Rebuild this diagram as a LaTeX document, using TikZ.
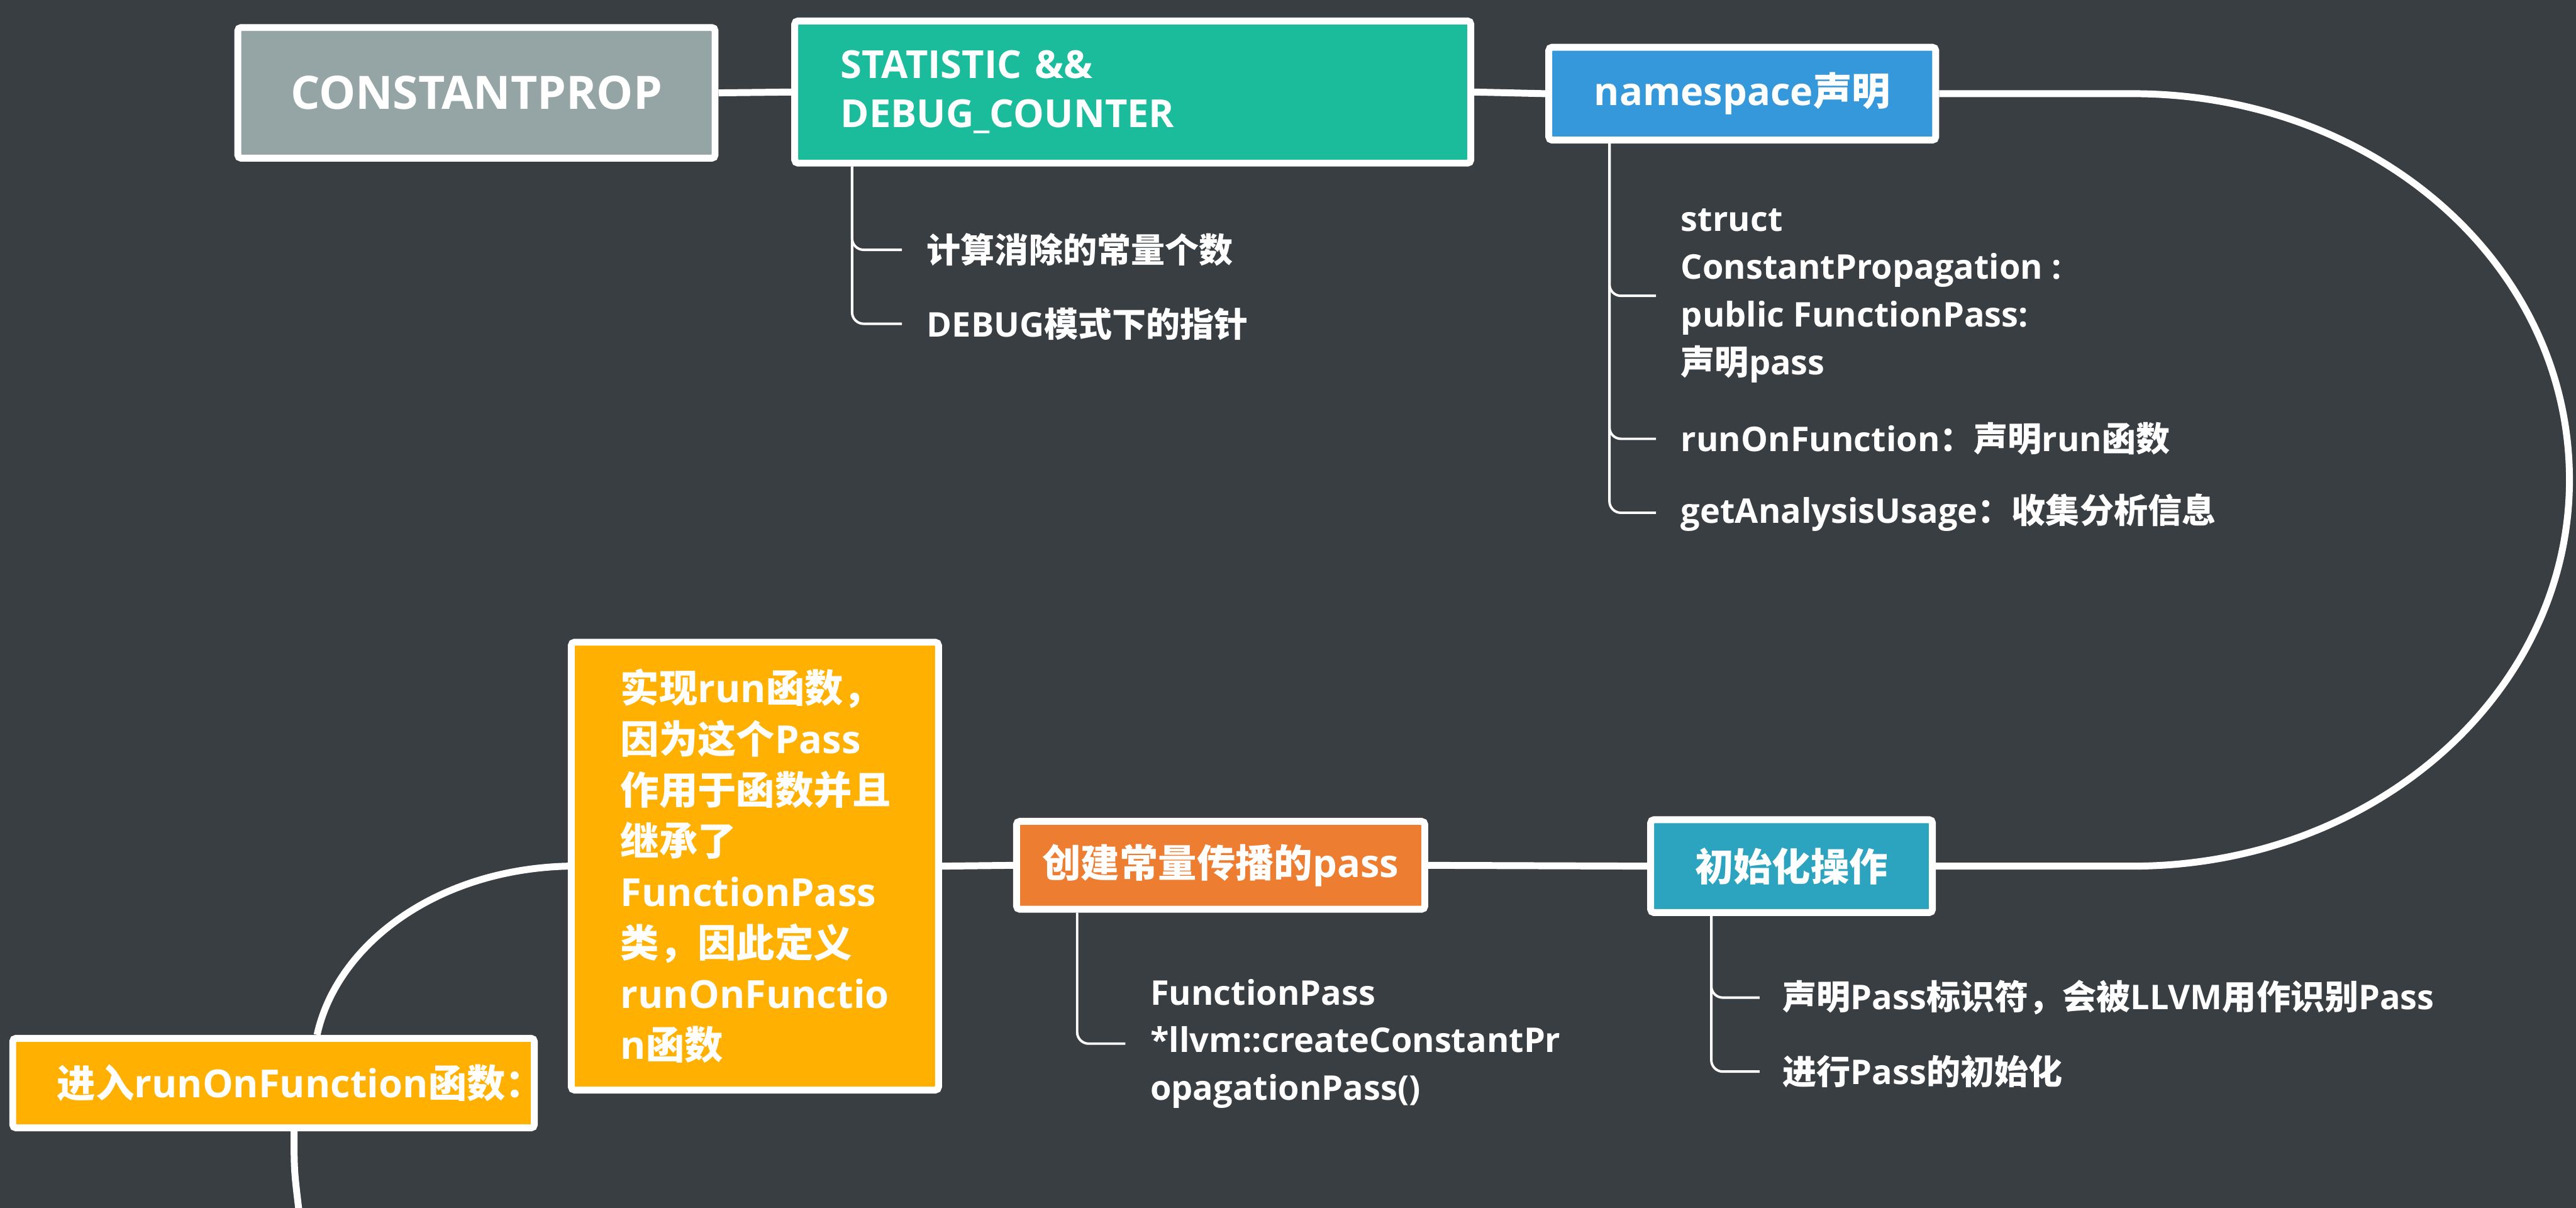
\documentclass[tikz,border=0pt]{standalone}
\usepackage{fontspec}
\setmainfont{Open Sans}
\newfontfamily\zhfont{Noto Sans CJK SC}
\newcommand\zhs[1]{{\zhfont #1}}

\definecolor{bgdark}{HTML}{393E43}
\definecolor{rootgray}{HTML}{95A5A6}
\definecolor{statgreen}{HTML}{1ABC9C}
\definecolor{nsblue}{HTML}{3498DB}
\definecolor{initcyan}{HTML}{2CA3BF}
\definecolor{passorange}{HTML}{ED7D31}
\definecolor{runamber}{HTML}{FFB000}

\tikzset{
  topic/.style={draw=white, line width=4.2pt, rounded corners=2pt, text=white,
    font=\bfseries\fontsize{23.5}{31}\selectfont},
  spine/.style={draw=white, line width=4.2pt},
  twig/.style={draw=white, line width=1.5pt, rounded corners=7pt},
  leaf/.style={text=white, inner sep=0pt, anchor=west, align=left,
    font=\bfseries\fontsize{20.7}{29}\selectfont},
}

\begin{document}
\begin{tikzpicture}[x=1pt,y=-1pt]
  \useasboundingbox (0,0) rectangle (1568,735);
  \fill[bgdark] (0,0) rectangle (1568,735);

  % main topics
  \node[topic, fill=rootgray, minimum width=290.5, minimum height=79.5,
    font=\bfseries\fontsize{28}{34}\selectfont] (root) at (290,56.5) {CONSTANTPROP};
  \node[topic, fill=statgreen, minimum width=411.5, minimum height=86.5,
    inner xsep=28, text width=355.5, align=left, font=\bfseries\fontsize{23.5}{30}\selectfont]
    (stat) at (689.5,56) {STATISTIC \&\&\\DEBUG\_COUNTER};
  \node[topic, fill=nsblue, minimum width=235.5, minimum height=56.5] (ns) at (1060.5,57)
    {namespace\zhs{声明}};
  \node[topic, fill=initcyan, minimum width=171.5, minimum height=56.5] (init) at (1090.5,527)
    {\zhs{初始化操作}};
  \node[topic, fill=passorange, minimum width=248.5, minimum height=53.5] (create) at (743,526.5)
    {\zhs{创建常量传播的}pass};
  \node[topic, fill=runamber, minimum width=223.5, minimum height=272.5,
    inner xsep=30, text width=163.5, align=left] (impl) at (459.5,527)
    {\zhs{实现}run\zhs{函数，}\\\zhs{因为这个}Pass\\\zhs{作用于函数并且}\\\zhs{继承了}\\FunctionPass\\\zhs{类，因此定义}\\runOnFunctio\\n\zhs{函数}};
  \node[topic, fill=runamber, minimum width=317.5, minimum height=54.5,
    inner xsep=27, text width=263.5, align=left] (enter) at (166.5,659)
    {\zhs{进入}runOnFunction\zhs{函数：}};

  % sub points
  \node[leaf] (stat1) at (564,152) {\zhs{计算消除的常量个数}};
  \node[leaf] (stat2) at (564,197) {DEBUG\zhs{模式下的指针}};
  \node[leaf] (ns1) at (1023,180) {struct\\ConstantPropagation :\\public FunctionPass:\\\zhs{声明}pass};
  \node[leaf] (ns2) at (1023,267) {runOnFunction\zhs{：声明}run\zhs{函数}};
  \node[leaf] (ns3) at (1023,312) {getAnalysisUsage\zhs{：收集分析信息}};
  \node[leaf] (create1) at (700,635) {FunctionPass\\*llvm::createConstantPr\\opagationPass()};
  \node[leaf] (init1) at (1085,607) {\zhs{声明}Pass\zhs{标识符，会被}LLVM\zhs{用作识别}Pass};
  \node[leaf] (init2) at (1085,652) {\zhs{进行}Pass\zhs{的初始化}};

  % spine
  \draw[spine] (root.east) -- (stat.west);
  \draw[spine] (stat.east) -- (ns.west);
  \draw[spine] (ns.east) -- (1298,57) .. controls (1445,57) and (1564,160) .. (1564,292)
    .. controls (1564,422) and (1445,527) .. (1298,527) -- (init.east);
  \draw[spine] (init.west) -- (create.east);
  \draw[spine] (create.west) -- (impl.east);
  \draw[spine] (impl.west) .. controls (265,529) and (205,575) .. ([xshift=26.5]enter.north);
  \coordinate (tail) at (182,737);
  \draw[spine] ([xshift=12.5]enter.south) .. controls (179,712) .. (tail);

  % branches
  \draw[twig] ([xshift=37]stat.south west) |- ([xshift=-15]stat1.west);
  \draw[twig] ([xshift=37]stat.south west) |- ([xshift=-15]stat2.west);
  \draw[twig] ([xshift=39]ns.south west) |- ([xshift=-15]ns1.west);
  \draw[twig] ([xshift=39]ns.south west) |- ([xshift=-15]ns2.west);
  \draw[twig] ([xshift=39]ns.south west) |- ([xshift=-15]ns3.west);
  \draw[twig] ([xshift=39]create.south west) |- ([xshift=-15]create1.west);
  \draw[twig] ([xshift=39]init.south west) |- ([xshift=-14]init1.west);
  \draw[twig] ([xshift=39]init.south west) |- ([xshift=-14]init2.west);
\end{tikzpicture}
\end{document}
